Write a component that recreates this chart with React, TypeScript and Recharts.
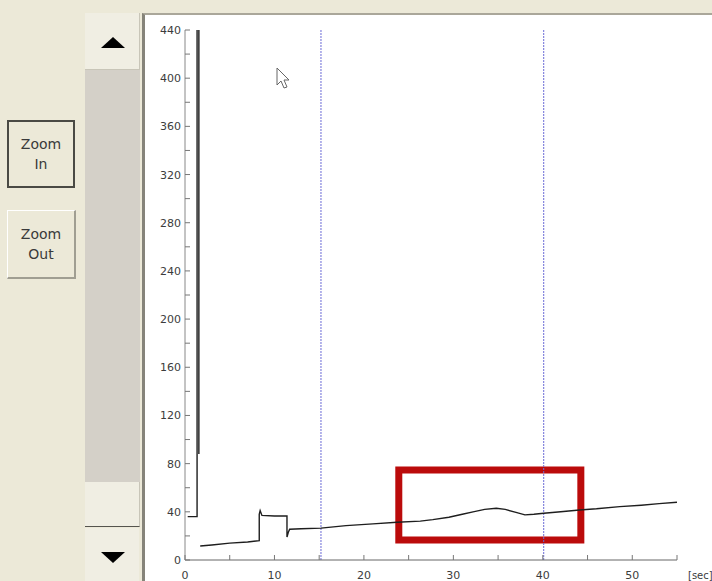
import React from 'react';
import { LineChart, Line, XAxis, YAxis, ReferenceLine, ReferenceArea } from 'recharts';

const timeSec = [0.3, 1.35, 1.35, 1.35, 1.55, 1.55, 1.6, 1.7, 3, 5, 7, 8.3, 8.3, 8.4, 8.6, 10, 11.4, 11.4, 11.55, 11.7, 13, 15.2, 18, 21, 23.7, 26.3, 27.7, 29.5, 31, 32.2, 33.5, 34.8, 35.8, 37, 38, 39, 40.1, 42, 44.1, 46, 48.6, 51, 53, 55];
const signal: (number | null)[] = [36, 36, 440, null, 440, 88, null, 11.6, 12.5, 14, 15, 16, 38, 41, 37, 36.5, 36.5, 19, 23, 25.5, 26, 26.5, 28.5, 30, 31.3, 32.3, 33.5, 35.5, 38, 40, 42, 43, 42, 39.5, 37.5, 38, 38.8, 40, 41.5, 42.5, 44.3, 45.5, 46.8, 47.9];

const xTicks = [0, 5, 10, 15, 20, 25, 30, 35, 40, 45, 50, 55];
const yTicks = [0, 20, 40, 60, 80, 100, 120, 140, 160, 180, 200, 220, 240, 260, 280, 300, 320, 340, 360, 380, 400, 420, 440];
const cursorLines = [15.2, 40.1];
const highlight = { x1: 23.9, x2: 44.25, y1: 16.6, y2: 74.7 };
const xUnit = '[sec]';

const data = timeSec.map((t, i) => ({ t, v: signal[i] }));

const tickFont = { fontFamily: 'DejaVu Sans, sans-serif', fontSize: 11, fill: '#3c3c3c' };

const YTick = (props: any) => {
  const { x, y, payload } = props;
  const v = payload.value;
  return (
    <g>
      <line x1={x} x2={x + 5} y1={y} y2={y} stroke="#777" />
      {v % 40 === 0 && (
        <text x={x - 4} y={y} dy="0.36em" textAnchor="end" {...tickFont}>
          {v}
        </text>
      )}
    </g>
  );
};

const XTick = (props: any) => {
  const { x, y, payload } = props;
  const v = payload.value;
  return (
    <g>
      <line x1={x} x2={x} y1={y - 5} y2={y} stroke="#777" />
      {v % 10 === 0 && (
        <text x={x} y={y + 19} textAnchor="middle" {...tickFont}>
          {v}
        </text>
      )}
      {v === 55 && (
        <text x={x + 11} y={y + 19} textAnchor="start" {...tickFont} fontSize={10}>
          {xUnit}
        </text>
      )}
    </g>
  );
};

const btnText: React.CSSProperties = {
  fontFamily: 'DejaVu Sans, sans-serif',
  fontSize: 14,
  color: '#3a3a3a',
  lineHeight: '20px',
  textAlign: 'center',
};

export default function App() {
  return (
    <div
      style={{
        position: 'fixed',
        left: 0,
        top: 0,
        width: 712,
        height: 581,
        background: '#ece9d8',
        overflow: 'hidden',
      }}
    >
      {/* Zoom In button (pressed look) */}
      <div
        style={{
          position: 'absolute',
          left: 7,
          top: 120,
          width: 64,
          height: 64,
          border: '2px solid #4a4a44',
          background: '#ece9d8',
          display: 'flex',
          flexDirection: 'column',
          justifyContent: 'center',
          ...btnText,
        }}
      >
        <div>Zoom</div>
        <div>In</div>
      </div>
      {/* Zoom Out button (raised look) */}
      <div
        style={{
          position: 'absolute',
          left: 7,
          top: 210,
          width: 66,
          height: 66,
          borderTop: '1px solid #ffffff',
          borderLeft: '1px solid #ffffff',
          borderRight: '2px solid #a09e92',
          borderBottom: '2px solid #a09e92',
          background: '#ece9d8',
          display: 'flex',
          flexDirection: 'column',
          justifyContent: 'center',
          ...btnText,
        }}
      >
        <div>Zoom</div>
        <div>Out</div>
      </div>

      {/* Scrollbar */}
      <div style={{ position: 'absolute', left: 85, top: 70, width: 55, height: 412, background: '#d4d0c8' }} />
      <div
        style={{
          position: 'absolute',
          left: 85,
          top: 13,
          width: 54,
          height: 56,
          background: '#f0eee3',
          borderRight: '1px solid #c8c5b8',
          borderBottom: '1px solid #c8c5b8',
        }}
      />
      <svg style={{ position: 'absolute', left: 100, top: 37 }} width={26} height={12}>
        <polygon points="13,0 25,11 1,11" fill="#000" />
      </svg>
      <div
        style={{
          position: 'absolute',
          left: 85,
          top: 482,
          width: 54,
          height: 44,
          background: '#f0eee3',
          borderRight: '1px solid #c8c5b8',
          borderBottom: '1px solid #55544e',
        }}
      />
      <div style={{ position: 'absolute', left: 85, top: 528, width: 54, height: 53, background: '#f0eee3' }} />
      <svg style={{ position: 'absolute', left: 100, top: 552 }} width={26} height={12}>
        <polygon points="1,0 25,0 13,11" fill="#000" />
      </svg>

      {/* Chart panel */}
      <div
        style={{
          position: 'absolute',
          left: 142,
          top: 13,
          width: 567,
          height: 566,
          borderLeft: '3px solid #86847a',
          borderTop: '2px solid #aaa79a',
          background: '#ffffff',
        }}
      >
        <LineChart width={567} height={566} data={data} margin={{ top: 15, right: 35, bottom: 1, left: 0 }}>
          <XAxis
            type="number"
            dataKey="t"
            domain={[0, 55]}
            ticks={xTicks}
            interval={0}
            allowDataOverflow
            height={20}
            tickSize={0}
            tickMargin={0}
            tickLine={false}
            axisLine={{ stroke: '#666' }}
            tick={<XTick />}
          />
          <YAxis
            type="number"
            domain={[0, 440]}
            ticks={yTicks}
            interval={0}
            allowDataOverflow
            width={40}
            tickSize={0}
            tickMargin={0}
            tickLine={false}
            axisLine={{ stroke: '#888' }}
            tick={<YTick />}
          />
          {cursorLines.map((cx) => (
            <ReferenceLine key={cx} x={cx} stroke="#6b6bd6" strokeDasharray="2 1" strokeWidth={1} />
          ))}
          <Line
            type="linear"
            dataKey="v"
            stroke="#1e1e1e"
            strokeWidth={1.4}
            dot={false}
            connectNulls={false}
            isAnimationActive={false}
          />
          <ReferenceArea
            x1={highlight.x1}
            x2={highlight.x2}
            y1={highlight.y1}
            y2={highlight.y2}
            fill="none"
            fillOpacity={0}
            stroke="#bb0b0b"
            strokeWidth={7}
          />
        </LineChart>
      </div>

      {/* mouse pointer */}
      <svg style={{ position: 'absolute', left: 276, top: 67 }} width={16} height={24}>
        <path d="M1,1 L1,18 L5,14 L8,21 L11,20 L8,13 L13,13 Z" fill="#ffffff" stroke="#666" strokeWidth={1} />
      </svg>
    </div>
  );
}
